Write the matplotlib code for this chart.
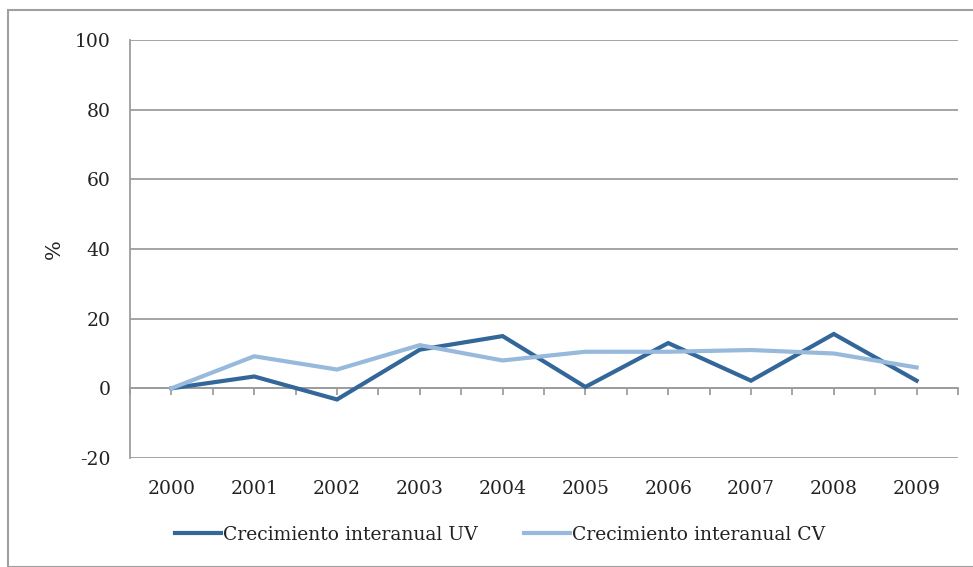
import matplotlib
matplotlib.use("Agg")
import matplotlib.pyplot as plt
from matplotlib.lines import Line2D
from matplotlib.patches import Rectangle

years = ["2000", "2001", "2002", "2003", "2004", "2005", "2006", "2007", "2008", "2009"]
uv = [0, 3.4, -3.2, 11.1, 15.0, 0.4, 13.0, 2.2, 15.6, 2.2]
cv = [0, 9.2, 5.4, 12.4, 8.0, 10.5, 10.5, 11.0, 10.0, 6.0]
y_ticks = [-20, 0, 20, 40, 60, 80, 100]

dark = "#336799"
light = "#96b9dc"
grid_c = "#9d9d9d"
txt_c = "#222222"

plt.rcParams['font.family'] = ['DejaVu Serif']

W, H = 973, 567
fig = plt.figure(figsize=(W / 100, H / 100), dpi=100)
fig.patches.append(Rectangle((8 / W, 0), 1, 1 - 10 / H, transform=fig.transFigure,
                             fill=False, edgecolor="#a0a0a0", linewidth=1.5))

ax = fig.add_axes([130 / W, 1 - 458 / H, (958 - 130) / W, (458 - 40) / H])
x = list(range(len(years)))
ax.plot(x, uv, color=dark, lw=3, solid_joinstyle='miter', label="Crecimiento interanual UV", zorder=3)
ax.plot(x, cv, color=light, lw=3, solid_joinstyle='miter', label="Crecimiento interanual CV", zorder=3)

ax.set_xlim(-0.5, len(years) - 0.5)
ax.set_ylim(-20, 100)
ax.set_yticks(y_ticks)
ax.set_yticklabels([str(v) for v in y_ticks], fontsize=13.5, color=txt_c)
ax.tick_params(axis='y', length=0, pad=14)
for v in y_ticks:
    ax.axhline(v, color=grid_c, lw=1.3, zorder=1)

for s in ['top', 'right']:
    ax.spines[s].set_visible(False)
ax.spines['left'].set_color(grid_c)
ax.spines['left'].set_linewidth(1.3)
ax.spines['bottom'].set_position(('data', 0))
ax.spines['bottom'].set_color(grid_c)
ax.spines['bottom'].set_linewidth(1.3)

ax.set_xticks(x)
ax.set_xticklabels(years, fontsize=13.5, color=txt_c)
ax.set_xticks([i - 0.5 for i in range(len(years) + 1)], minor=True)
ax.tick_params(axis='x', which='both', direction='out', length=5, width=1.3, color=grid_c)
ax.tick_params(axis='x', which='major', pad=61)

ax.set_ylabel("%", fontsize=15, color=txt_c, labelpad=8)

handles = [Line2D([], [], color=dark, lw=3), Line2D([], [], color=light, lw=3)]
fig.legend(handles, ["Crecimiento interanual UV", "Crecimiento interanual CV"],
           loc='center', bbox_to_anchor=(0.514, 1 - 535 / H), ncol=2, frameon=False,
           fontsize=13.5, handlelength=2.45, handletextpad=0.1, columnspacing=2.5,
           labelcolor=txt_c)

fig.savefig("out.png", dpi=100)
